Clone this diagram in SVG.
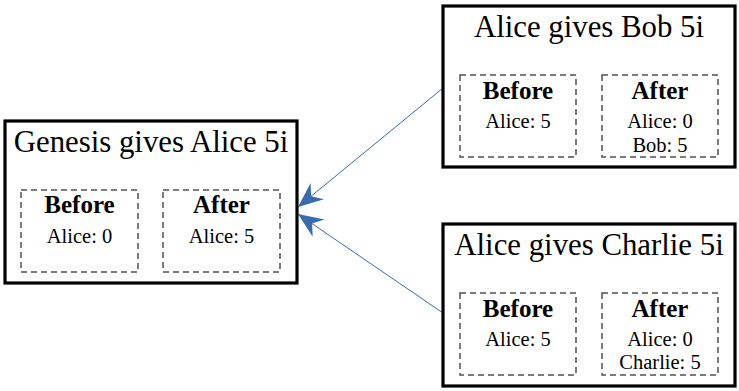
<svg xmlns="http://www.w3.org/2000/svg" width="739" height="391" viewBox="0 0 739 391">
<style>
.box{fill:#fff;stroke:#000;stroke-width:3.2}
.sub{fill:none;stroke:#505050;stroke-width:1.5;stroke-dasharray:6,4}
.title{font-family:"Liberation Serif","Times New Roman",serif;font-size:30.8px;fill:#000;text-anchor:middle}
.hd{font-family:"Liberation Serif","Times New Roman",serif;font-size:25px;font-weight:bold;fill:#000;text-anchor:middle}
.val{font-family:"Liberation Serif","Times New Roman",serif;font-size:20.5px;fill:#000;text-anchor:middle}
.edge{stroke:#3a6bad;stroke-width:1;fill:none}
</style>
<defs>
<marker id="arr" markerUnits="userSpaceOnUse" markerWidth="30" markerHeight="26" viewBox="-27 -13 30 26" refX="0" refY="0" orient="auto">
<path d="M0,0 L-25,-10.5 L-17,0 L-25,10.5 Z" fill="#3a6bad"/>
</marker>
</defs>
<rect width="739" height="391" fill="#fff"/>
<g id="connectors">
<line class="edge" x1="443" y1="88" x2="298" y2="207" marker-end="url(#arr)"/>
<line class="edge" x1="443" y1="313" x2="298" y2="214" marker-end="url(#arr)"/>
</g>
<g id="genesis">
<rect class="box" x="5" y="121" width="292" height="162"/>
<text class="title" x="151" y="152">Genesis gives Alice 5i</text>
<rect class="sub" x="21" y="190" width="117" height="82"/>
<text class="hd" x="79.5" y="213">Before</text>
<text class="val" x="79.5" y="243">Alice: 0</text>
<rect class="sub" x="163" y="190" width="117" height="82"/>
<text class="hd" x="221.5" y="213">After</text>
<text class="val" x="221.5" y="243">Alice: 5</text>
</g>
<g id="bob">
<rect class="box" x="443" y="6" width="292" height="161"/>
<text class="title" x="589" y="37">Alice gives Bob 5i</text>
<rect class="sub" x="460" y="75" width="116" height="82"/>
<text class="hd" x="518" y="99">Before</text>
<text class="val" x="518" y="128">Alice: 5</text>
<rect class="sub" x="602" y="75" width="116" height="82"/>
<text class="hd" x="660" y="99">After</text>
<text class="val" x="660" y="128">Alice: 0</text>
<text class="val" x="660" y="152">Bob: 5</text>
</g>
<g id="charlie">
<rect class="box" x="443" y="224" width="292" height="162"/>
<text class="title" x="589" y="255">Alice gives Charlie 5i</text>
<rect class="sub" x="460" y="293" width="116" height="82"/>
<text class="hd" x="518" y="317">Before</text>
<text class="val" x="518" y="346">Alice: 5</text>
<rect class="sub" x="602" y="293" width="116" height="82"/>
<text class="hd" x="660" y="317">After</text>
<text class="val" x="660" y="346">Alice: 0</text>
<text class="val" x="660" y="369">Charlie: 5</text>
</g>
</svg>
